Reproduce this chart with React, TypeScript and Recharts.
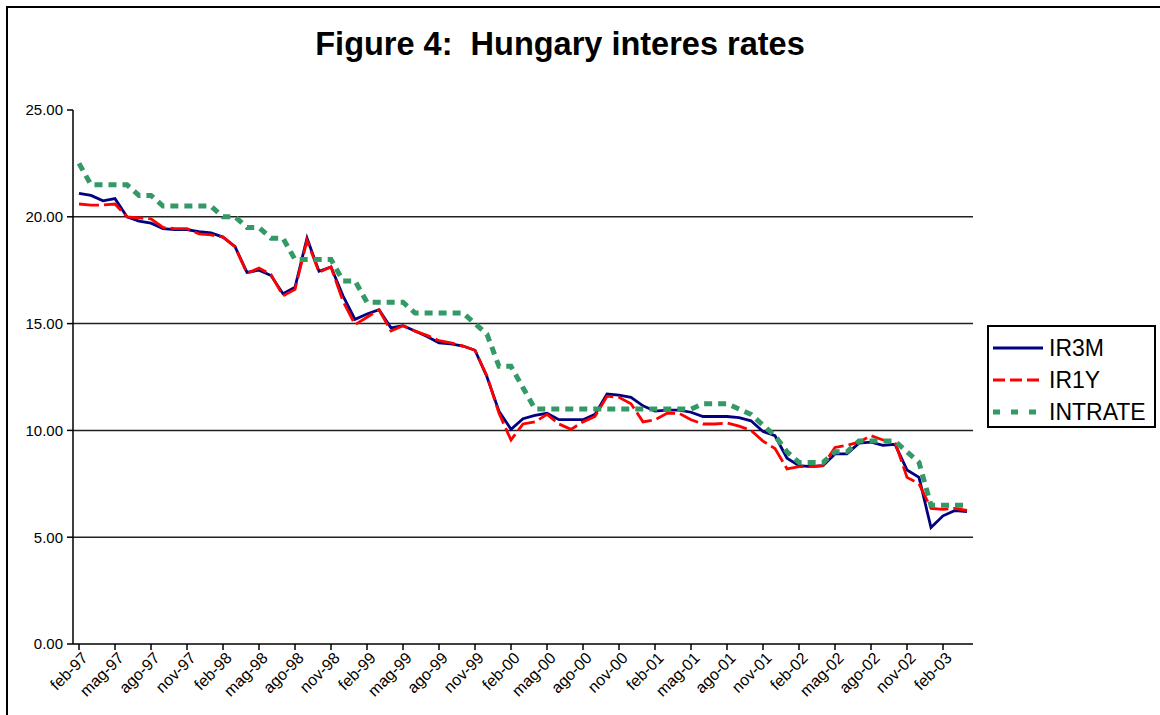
import React from 'react';
import {
  LineChart,
  Line,
  XAxis,
  YAxis,
  CartesianGrid,
  Legend,
} from 'recharts';

// Months feb-97 .. apr-03 (Italian abbreviations, as in the source sheet)
const months = [
  'feb-97', 'mar-97', 'apr-97', 'mag-97', 'giu-97', 'lug-97', 'ago-97', 'set-97', 'ott-97', 'nov-97', 'dic-97',
  'gen-98', 'feb-98', 'mar-98', 'apr-98', 'mag-98', 'giu-98', 'lug-98', 'ago-98', 'set-98', 'ott-98', 'nov-98', 'dic-98',
  'gen-99', 'feb-99', 'mar-99', 'apr-99', 'mag-99', 'giu-99', 'lug-99', 'ago-99', 'set-99', 'ott-99', 'nov-99', 'dic-99',
  'gen-00', 'feb-00', 'mar-00', 'apr-00', 'mag-00', 'giu-00', 'lug-00', 'ago-00', 'set-00', 'ott-00', 'nov-00', 'dic-00',
  'gen-01', 'feb-01', 'mar-01', 'apr-01', 'mag-01', 'giu-01', 'lug-01', 'ago-01', 'set-01', 'ott-01', 'nov-01', 'dic-01',
  'gen-02', 'feb-02', 'mar-02', 'apr-02', 'mag-02', 'giu-02', 'lug-02', 'ago-02', 'set-02', 'ott-02', 'nov-02', 'dic-02',
  'gen-03', 'feb-03', 'mar-03', 'apr-03',
];

const ir3m = [
  21.1, 21.0, 20.75, 20.85, 20.0, 19.8, 19.7, 19.45, 19.4, 19.4, 19.3,
  19.25, 19.05, 18.6, 17.4, 17.5, 17.25, 16.4, 16.7, 19.0, 17.45, 17.65, 16.3,
  15.2, 15.45, 15.65, 14.8, 14.9, 14.65, 14.4, 14.1, 14.05, 13.95, 13.75, 12.5,
  10.9, 10.05, 10.55, 10.7, 10.8, 10.5, 10.5, 10.5, 10.75, 11.7, 11.65, 11.55,
  11.15, 10.9, 10.95, 10.95, 10.85, 10.65, 10.65, 10.65, 10.6, 10.45, 9.95, 9.75,
  8.7, 8.35, 8.3, 8.35, 8.9, 8.9, 9.4, 9.45, 9.3, 9.35, 8.15, 7.8,
  5.45, 6.0, 6.25, 6.2,
];

const ir1y = [
  20.6, 20.55, 20.55, 20.6, 20.0, 19.95, 19.9, 19.5, 19.45, 19.45, 19.2,
  19.15, 19.05, 18.6, 17.35, 17.6, 17.3, 16.3, 16.6, 18.9, 17.4, 17.65, 16.05,
  14.95, 15.3, 15.65, 14.65, 14.9, 14.65, 14.45, 14.2, 14.1, 13.95, 13.75, 12.55,
  10.8, 9.55, 10.3, 10.4, 10.75, 10.3, 10.05, 10.4, 10.65, 11.6, 11.55, 11.25,
  10.4, 10.5, 10.8, 10.8, 10.5, 10.3, 10.3, 10.35, 10.2, 10.0, 9.5, 9.15,
  8.2, 8.3, 8.3, 8.35, 9.2, 9.3, 9.45, 9.75, 9.55, 9.45, 7.8, 7.5,
  6.35, 6.3, 6.35, 6.25,
];

const intrate = [
  22.5, 21.5, 21.5, 21.5, 21.5, 21.0, 21.0, 20.5, 20.5, 20.5, 20.5,
  20.5, 20.0, 20.0, 19.5, 19.5, 19.0, 19.0, 18.0, 18.0, 18.0, 18.0, 17.0,
  17.0, 16.0, 16.0, 16.0, 16.0, 15.5, 15.5, 15.5, 15.5, 15.5, 15.0, 14.5,
  13.0, 13.0, 12.0, 11.0, 11.0, 11.0, 11.0, 11.0, 11.0, 11.0, 11.0, 11.0,
  11.0, 11.0, 11.0, 11.0, 11.0, 11.25, 11.25, 11.25, 11.0, 10.75, 10.25, 9.75,
  9.0, 8.5, 8.5, 8.5, 9.0, 9.0, 9.5, 9.5, 9.5, 9.5, 9.0, 8.5,
  6.5, 6.5, 6.5, 6.5,
];

const yTicks = [0, 5, 10, 15, 20, 25];
const gridValues = [5, 10, 15, 20];

const series = [
  { key: 'IR3M', color: '#000080', width: 2.8, dash: undefined, legendDash: undefined },
  { key: 'IR1Y', color: '#FF0000', width: 2.8, dash: '20 5', legendDash: '12 5' },
  { key: 'INTRATE', color: '#339966', width: 5, dash: '8 6', legendDash: '7 11' },
];

const FONT = 'Arial, "Liberation Sans", sans-serif';

const chartData = months.map((m, i) => ({
  month: m,
  IR3M: ir3m[i],
  IR1Y: ir1y[i],
  INTRATE: intrate[i],
}));

function MonthTick({ x, y, payload }: { x?: number; y?: number; payload?: { value: string } }) {
  return (
    <g transform={`translate(${x},${y})`}>
      <text
        x={0}
        y={0}
        dx={2}
        dy={12}
        textAnchor="end"
        transform="rotate(-45)"
        fontSize={16}
        fontFamily={FONT}
        fill="#000"
      >
        {payload?.value}
      </text>
    </g>
  );
}

function LegendBox() {
  return (
    <div
      style={{
        width: 169,
        height: 103,
        boxSizing: 'border-box',
        border: '2px solid #000',
        background: '#fff',
        paddingTop: 5,
        fontFamily: FONT,
      }}
    >
      {series.map((s) => (
        <div key={s.key} style={{ display: 'flex', alignItems: 'center', height: 32 }}>
          <svg width={56} height={10} style={{ marginLeft: 4 }}>
            <line
              x1={0}
              y1={5}
              x2={50}
              y2={5}
              stroke={s.color}
              strokeWidth={s.width}
              strokeDasharray={s.legendDash}
            />
          </svg>
          <span style={{ fontSize: 23, color: '#000', lineHeight: '32px' }}>{s.key}</span>
        </div>
      ))}
    </div>
  );
}

export default function App() {
  return (
    <div
      style={{
        position: 'absolute',
        left: 0,
        top: 0,
        width: 1160,
        height: 715,
        overflow: 'hidden',
        background: '#fff',
        fontFamily: FONT,
      }}
    >
      {/* outer frame of the chart object */}
      <div
        style={{
          position: 'absolute',
          left: 6,
          top: 6,
          width: 1220,
          height: 800,
          border: '2px solid #000',
        }}
      />

      <div
        style={{
          position: 'absolute',
          left: 0,
          top: 28,
          width: 1120,
          textAlign: 'center',
          fontSize: 32.5,
          fontWeight: 'bold',
          lineHeight: 1,
          whiteSpace: 'pre',
          color: '#000',
        }}
      >
        {'Figure 4:  Hungary interes rates'}
      </div>

      <div style={{ position: 'absolute', left: 0, top: 0 }}>
        <LineChart
          width={1160}
          height={715}
          data={chartData}
          margin={{ top: 110, right: 187, bottom: 11, left: 13 }}
        >
          <CartesianGrid
            horizontal
            vertical={false}
            horizontalValues={gridValues}
            stroke="#222"
            strokeWidth={1.5}
          />
          <XAxis
            dataKey="month"
            scale="band"
            interval={2}
            height={60}
            tick={<MonthTick />}
            tickSize={6}
            axisLine={{ stroke: '#000', strokeWidth: 1.5 }}
            tickLine={{ stroke: '#000', strokeWidth: 1.5 }}
          />
          <YAxis
            domain={[0, 25]}
            ticks={yTicks}
            width={60}
            tickSize={6}
            tickMargin={4}
            tickFormatter={(v: number) => v.toFixed(2)}
            tick={{ fontSize: 15, fill: '#000', fontFamily: FONT }}
            axisLine={{ stroke: '#000', strokeWidth: 1.5 }}
            tickLine={{ stroke: '#000', strokeWidth: 1.5 }}
          />
          <Legend
            layout="vertical"
            align="center"
            verticalAlign="middle"
            content={() => <LegendBox />}
            wrapperStyle={{ left: 987, top: 325, width: 169 }}
          />
          {series.map((s) => (
            <Line
              key={s.key}
              type="linear"
              dataKey={s.key}
              stroke={s.color}
              strokeWidth={s.width}
              strokeDasharray={s.dash}
              dot={false}
              activeDot={false}
              isAnimationActive={false}
            />
          ))}
        </LineChart>
      </div>
    </div>
  );
}
